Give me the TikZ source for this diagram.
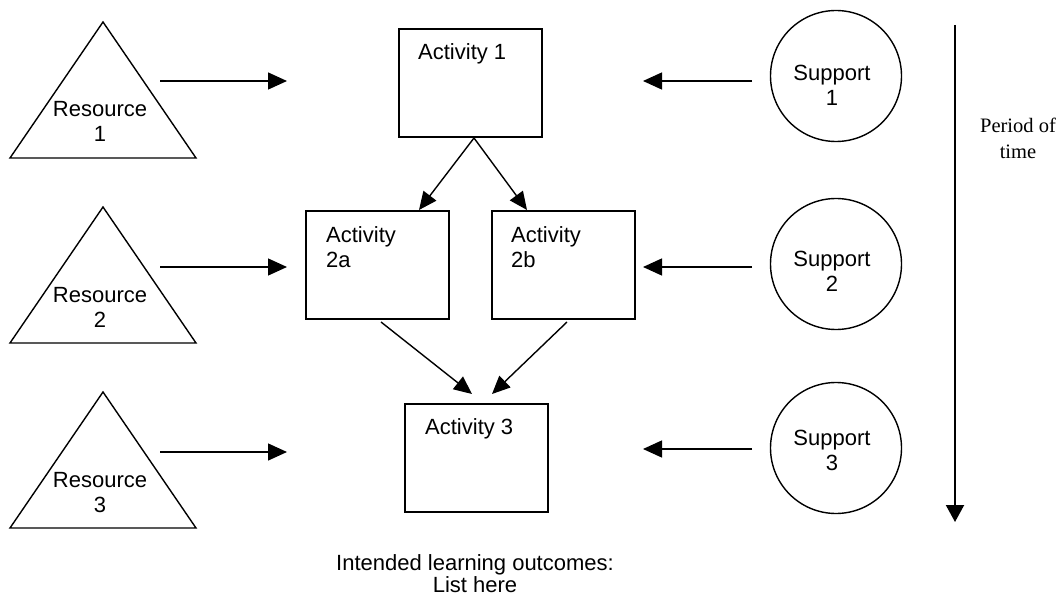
\documentclass[tikz,border=0pt]{standalone}
\usepackage{fontspec}
\setmainfont{Liberation Sans}
\newfontfamily\seriffont{Liberation Serif}
\usetikzlibrary{arrows.meta}
\tikzset{
  ln/.style={line width=1.4pt, draw=black},
  arr/.style={ln, -{Triangle[length=19pt,width=17pt]}},
  darr/.style={ln, -{Triangle[length=18pt,width=16pt]}},
  actbox/.style={draw, line width=1.7pt, minimum width=143pt, minimum height=108pt, inner sep=0pt},
  supp/.style={draw, circle, line width=1.4pt, minimum size=131pt, inner sep=0pt},
  lbl/.style={font=\fontsize{22pt}{25pt}\selectfont, anchor=base, inner sep=0pt},
  lblw/.style={lbl, anchor=base west},
  ser/.style={font=\seriffont\fontsize{20.5pt}{26pt}\selectfont, anchor=base, inner sep=0pt},
}
\begin{document}
\begin{tikzpicture}[x=1pt,y=-1pt]
\useasboundingbox[fill=white] (0,0) rectangle (1063,596);

% Resources (triangles)
\foreach \i/\dy in {1/0,2/185,3/370}{
  \draw[ln, line join=miter] (103,22+\dy) -- (196,158+\dy) -- (10,158+\dy) -- cycle;
}
\node[lbl] (res1a) at (100,117) {Resource};
\node[lbl] (res1b) at (100,142) {1};
\node[lbl] (res2a) at (100,302) {Resource};
\node[lbl] (res2b) at (100,327) {2};
\node[lbl] (res3a) at (100,487) {Resource};
\node[lbl] (res3b) at (100,512) {3};

% Activities
\node[actbox] (a1)  at (470.5,83) {};
\node[actbox] (a2a) at (377.5,265) {};
\node[actbox] (a2b) at (563.5,265) {};
\node[actbox] (a3)  at (476.5,458) {};
\node[lblw] (a1t) at (418,60) {Activity 1};
\node[lblw] (a2at) at (326,243) {Activity};
\node[lblw] (a2at2) at (326,268) {2a};
\node[lblw] (a2bt) at (511,243) {Activity};
\node[lblw] (a2bt2) at (511,268) {2b};
\node[lblw] (a3t) at (425,434) {Activity 3};

% Supports
\node[supp] (s1) at (836,76) {};
\node[supp] (s2) at (836,264) {};
\node[supp] (s3) at (836,448) {};
\node[lbl] (s1a) at (832,81) {Support};
\node[lbl] (s1b) at (832,106) {1};
\node[lbl] (s2a) at (832,266) {Support};
\node[lbl] (s2b) at (832,291) {2};
\node[lbl] (s3a) at (832,445) {Support};
\node[lbl] (s3b) at (832,470) {3};

% free arrow ends
\coordinate (r1s) at (160,81);  \coordinate (r1e) at (287,81);
\coordinate (r2s) at (160,267); \coordinate (r2e) at (287,267);
\coordinate (r3s) at (160,452); \coordinate (r3e) at (287,452);
\coordinate (p1s) at (752,81);  \coordinate (p1e) at (643,81);
\coordinate (p2s) at (752,267); \coordinate (p2e) at (643,267);
\coordinate (p3s) at (752,449); \coordinate (p3e) at (643,449);
\coordinate (d1s) at (474,138);
\coordinate (d1a) at (419,210);
\coordinate (d1b) at (527,210);
\coordinate (d2as) at (381,322);
\coordinate (d2bs) at (567,322);
\coordinate (d3a) at (472,394);
\coordinate (d3b) at (492,394);
\coordinate (ts) at (955,25);
\coordinate (te) at (955,522);

\foreach \s/\e in {r1s/r1e,r2s/r2e,r3s/r3e,p1s/p1e,p2s/p2e,p3s/p3e}{
  \draw[arr] (\s) -- (\e);
}
\draw[darr] (d1s) -- (d1a);
\draw[darr] (d1s) -- (d1b);
\draw[darr] (d2as) -- (d3a);
\draw[darr] (d2bs) -- (d3b);

% period of time
\draw[line width=2pt, -{Triangle[length=17pt,width=18pt]}] (ts) -- (te);
\node[ser] (pt1) at (1018,133) {Period of};
\node[ser] (pt2) at (1018,159) {time};

% outcomes
\node[lbl] (io1) at (475,570) {Intended learning outcomes:};
\node[lbl] (io2) at (475,592) {List here};
\end{tikzpicture}
\end{document}
